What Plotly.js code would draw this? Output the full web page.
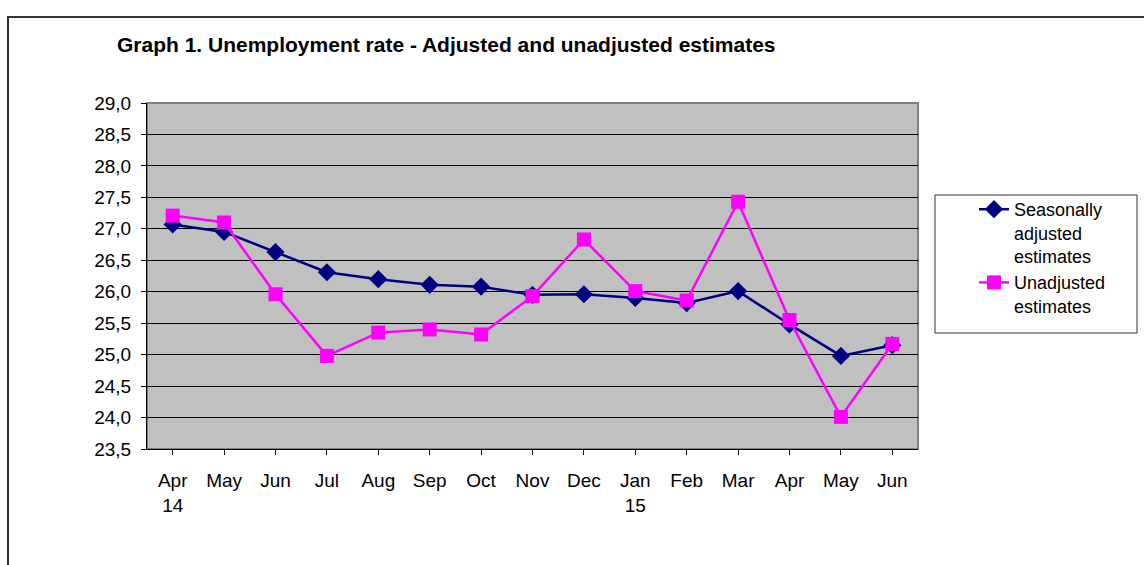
<!DOCTYPE html>
<html>
<head>
<meta charset="utf-8">
<script src="https://cdn.plot.ly/plotly-3.0.1.min.js"></script>
<style>html,body{margin:0;padding:0;background:#fff;}#chart{width:1144px;height:565px;}</style>
</head>
<body>
<div id="chart"></div>
<script>
var categories = ["Apr<br>14","May","Jun","Jul","Aug","Sep","Oct","Nov","Dec","Jan<br>15","Feb","Mar","Apr","May","Jun"];
var seasonallyAdjusted = [27.07,26.95,26.63,26.31,26.20,26.11,26.08,25.95,25.96,25.90,25.82,26.01,25.48,24.98,25.15];
var unadjusted = [27.21,27.10,25.96,24.98,25.35,25.40,25.32,25.93,26.83,26.01,25.86,27.43,25.55,24.01,25.17];
var seriesNames = ["Seasonally<br>adjusted<br>estimates","Unadjusted<br>estimates"];
var titleText = "Graph 1. Unemployment rate - Adjusted and unadjusted estimates";

var idx = categories.map(function(c,i){return i;});
var font = "Liberation Sans, Arial, sans-serif";

var traces = [
  {x: idx, y: seasonallyAdjusted, name: seriesNames[0], type: "scatter", mode: "lines+markers",
   line: {color: "#000080", width: 2.5},
   marker: {symbol: "diamond", size: 14, color: "#000080"}},
  {x: idx, y: unadjusted, name: seriesNames[1], type: "scatter", mode: "lines+markers",
   line: {color: "#ff00ff", width: 2.5},
   marker: {symbol: "square", size: 14, color: "#ff00ff"}}
];

var L = 147, R = 918, T = 103, B = 449, W = 1144, H = 565;
function px(x){return (x-L)/(R-L);}
function py(y){return (B-y)/(B-T);}

var layout = {
  width: W, height: H,
  margin: {l: L, r: W-R, t: T, b: H-B, pad: 0},
  paper_bgcolor: "#ffffff",
  plot_bgcolor: "#c0c0c0",
  separators: ",.",
  font: {family: font, size: 19, color: "#000"},
  title: {text: "<b>" + titleText + "</b>", font: {family: font, size: 21, color: "#000"},
          xref: "container", x: 117/W, xanchor: "left", yref: "container", y: 1 - 45/H, yanchor: "middle"},
  showlegend: true,
  legend: {x: px(974), xanchor: "left", y: py(191), yanchor: "top", valign: "top",
           bgcolor: "rgba(0,0,0,0)", borderwidth: 0, font: {family: font, size: 18, color: "#000"},
           itemclick: false},
  xaxis: {
    tickmode: "array", tickvals: idx, ticktext: categories,
    range: [-0.5, categories.length - 0.5],
    showgrid: false, zeroline: false,
    showline: true, linecolor: "#000", linewidth: 1,
    ticks: "outside", ticklen: 5, tickcolor: "#000", tickwidth: 1,
    tickson: "boundaries",
    ticklabelstandoff: 9,
    fixedrange: true
  },
  yaxis: {
    range: [23.5, 29.0], dtick: 0.5, tick0: 23.5, tickformat: ".1f",
    showgrid: true, gridcolor: "#000", gridwidth: 1,
    zeroline: false,
    showline: true, linecolor: "#000", linewidth: 1,
    ticks: "outside", ticklen: 5, tickcolor: "#000", tickwidth: 1,
    ticklabelstandoff: 6,
    fixedrange: true
  },
  shapes: [
    {type: "rect", xref: "paper", yref: "paper", x0: 0, x1: 1, y0: 0, y1: 1,
     line: {color: "#808080", width: 2}, fillcolor: "rgba(0,0,0,0)", layer: "below"},
    {type: "rect", xref: "paper", yref: "paper", x0: px(8), x1: px(1160), y0: py(17), y1: py(600),
     line: {color: "#333333", width: 2}, fillcolor: "rgba(0,0,0,0)"},
    {type: "rect", xref: "paper", yref: "paper", x0: px(935), x1: px(1137), y0: py(333), y1: py(195),
     line: {color: "#333333", width: 1}, fillcolor: "rgba(0,0,0,0)"}
  ]
};

Plotly.newPlot("chart", traces, layout, {displayModeBar: false, staticPlot: true});
</script>
</body>
</html>
